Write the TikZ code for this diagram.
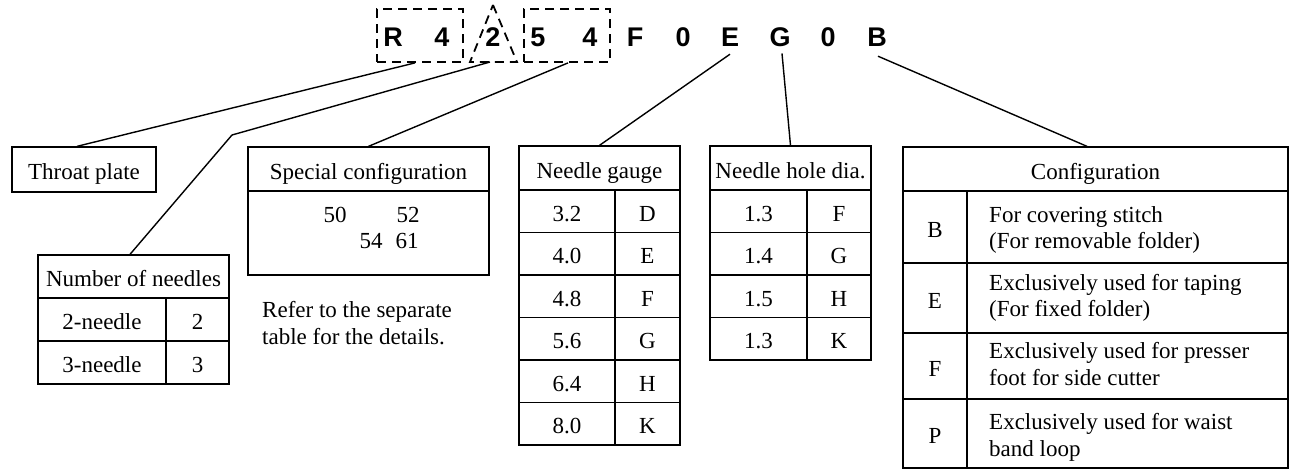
\documentclass[tikz,border=0pt]{standalone}
\usepackage{fontspec}
\setmainfont{Liberation Serif}
\newfontfamily\codefont{Liberation Sans}
\usetikzlibrary{calc}
\newcommand{\tcell}[6]{\node[cell, minimum width={#4-#2}, minimum height={#5-#3}] (#1) at ({(#2+#4)/2},{(#3+#5)/2}) {#6};}
\begin{document}
\begin{tikzpicture}[x=1pt,y=-1pt,
  every node/.style={font=\fontsize{23}{27}\selectfont},
  cell/.style={draw, line width=1.3pt, inner sep=0pt, text height=20pt, text depth=0pt},
  code/.style={font=\codefont\bfseries\fontsize{27}{30}\selectfont, anchor=base, inner sep=0pt},
  grp/.style={draw, dash pattern=on 9pt off 6pt, line width=1.8pt},
  link/.style={line width=1.4pt},
  txt/.style={anchor=base west, inner sep=0pt},
  num/.style={anchor=base, inner sep=0pt}
]
\useasboundingbox (0,0) rectangle (1293,471);

% code letters
\node[code] (cR)  at (393,46) {R};
\node[code] (c4a) at (442,46) {4};
\node[code] (c2)  at (493,46) {2};
\node[code] (c5)  at (538,46) {5};
\node[code] (c4b) at (590,46) {4};
\node[code] (cF)  at (635,46) {F};
\node[code] (c0a) at (683,46) {0};
\node[code] (cE)  at (730,46) {E};
\node[code] (cG)  at (780,46) {G};
\node[code] (c0b) at (828,46) {0};
\node[code] (cB)  at (877,46) {B};

% dashed groups
\node[grp, minimum width=86, minimum height=53, inner sep=0pt] (g1) at (420,35.5) {};
\node[grp, minimum width=86, minimum height=53, inner sep=0pt] (g2) at (567,35.5) {};
\draw[grp] (493,5) -- (517,62) -- (470,62) -- cycle;
\coordinate (tribase) at (490,62);
\coordinate (kink) at (232,135);

% Throat plate
\tcell{throat}{12}{147}{156}{192}{Throat plate}

% Number of needles
\tcell{nnh}{38}{255}{229}{298}{Number of needles}
\tcell{nn2a}{38}{298}{166}{341}{2-needle}
\tcell{nn2b}{166}{298}{229}{341}{2}
\tcell{nn3a}{38}{341}{166}{384}{3-needle}
\tcell{nn3b}{166}{341}{229}{384}{3}

% Special configuration
\tcell{sph}{248}{147}{489}{191}{Special configuration}
\tcell{spb}{248}{191}{489}{275}{}
\node[num] (s50) at (335,222) {50};
\node[num] (s52) at (408,222) {52};
\node[num] (s54) at (371,248) {54};
\node[num] (s61) at (407,248) {61};
\node[txt] (refer1) at (262,317) {Refer to the separate};
\node[txt] (refer2) at (262,344) {table for the details.};

% Needle gauge
\tcell{ngh}{519}{146}{680}{190}{Needle gauge}
\foreach [count=\i] \a/\b in {3.2/D,4.0/E,4.8/F,5.6/G,6.4/H,8.0/K}{
  \pgfmathsetmacro\yt{190+(\i-1)*42.5}
  \pgfmathsetmacro\yb{190+\i*42.5}
  \tcell{ngL\i}{519}{\yt}{615}{\yb}{\a}
  \tcell{ngR\i}{615}{\yt}{680}{\yb}{\b}
}

% Needle hole dia.
\tcell{nhh}{710}{146}{871}{190}{Needle hole dia.}
\foreach [count=\i] \a/\b in {1.3/F,1.4/G,1.5/H,1.3/K}{
  \pgfmathsetmacro\yt{190+(\i-1)*42.5}
  \pgfmathsetmacro\yb{190+\i*42.5}
  \tcell{nhL\i}{710}{\yt}{807}{\yb}{\a}
  \tcell{nhR\i}{807}{\yt}{871}{\yb}{\b}
}

% Configuration
\tcell{cfh}{903}{147}{1288}{191}{Configuration}
\tcell{cfB}{903}{191}{967}{263}{B}
\tcell{cfBt}{967}{191}{1288}{263}{}
\node[txt] (cfB1) at (989,222) {For covering stitch};
\node[txt] (cfB2) at (989,248) {(For removable folder)};
\tcell{cfE}{903}{263}{967}{333}{E}
\tcell{cfEt}{967}{263}{1288}{333}{}
\node[txt] (cfE1) at (989,290.5) {Exclusively used for taping};
\node[txt] (cfE2) at (989,316) {(For fixed folder)};
\tcell{cfF}{903}{333}{967}{399}{F}
\tcell{cfFt}{967}{333}{1288}{399}{}
\node[txt] (cfF1) at (989,358) {Exclusively used for presser};
\node[txt] (cfF2) at (989,385) {foot for side cutter};
\tcell{cfP}{903}{399}{967}{468}{P}
\tcell{cfPt}{967}{399}{1288}{468}{}
\node[txt] (cfP1) at (989,429) {Exclusively used for waist};
\node[txt] (cfP2) at (989,456) {band loop};

% connectors
\draw[link] ([xshift=-5pt]g1.south) -- ([xshift=-7pt]throat.north);
\draw[link] (tribase) -- (kink) -- ([xshift=-3.5pt]nnh.north);
\draw[link] ([xshift=1pt]g2.south) -- (sph.north);
\draw[link] ([yshift=-8pt]cE.south) -- (ngh.north);
\draw[link] ([xshift=2pt,yshift=-7pt]cG.south) -- (nhh.north);
\draw[link] ([xshift=1pt,yshift=-10pt]cB.south) -- ([xshift=-8.5pt]cfh.north);
\end{tikzpicture}
\end{document}
